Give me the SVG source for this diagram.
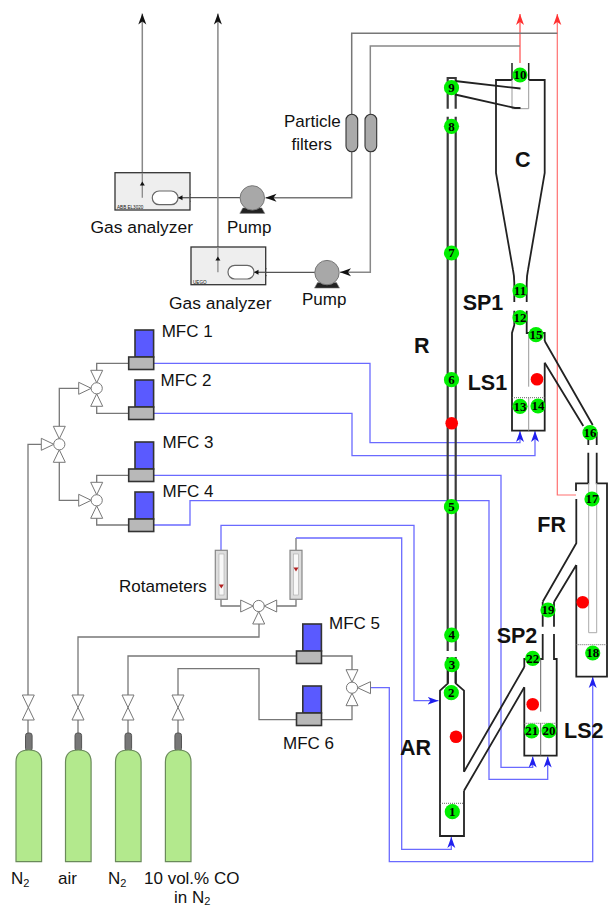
<svg xmlns="http://www.w3.org/2000/svg" width="608" height="907" viewBox="0 0 608 907">
<style>
text{font-family:"Liberation Sans",Arial,sans-serif;fill:#111}
.t{font-size:17px}
.b{font-size:21.5px;font-weight:bold}
.n{font-family:"Liberation Serif","Times New Roman",serif;font-size:13px;font-weight:bold;text-anchor:middle;fill:#000}
.g{fill:none;stroke:#777;stroke-width:1.3}
.k{fill:none;stroke:#555;stroke-width:1.3}
.bl{fill:none;stroke:#6a6aff;stroke-width:1.3}
.r{fill:none;stroke:#ff7070;stroke-width:1.2}
.w{fill:none;stroke:#222;stroke-width:1.8}
.p{fill:none;stroke:#3a3a3a;stroke-width:2.2}
.th{fill:none;stroke:#999;stroke-width:1}
.d{fill:none;stroke:#666;stroke-width:1;stroke-dasharray:1 1}
.green{fill:#00ee00}
.red{fill:#ff0000}
.v{fill:#fff;stroke:#777;stroke-width:1}
.mb{fill:#5a5aff;stroke:#333;stroke-width:1.6}
.mg{fill:#b8b8b8;stroke:#333;stroke-width:1.6}
.cyl{fill:#b3e98d;stroke:#6a8a5a;stroke-width:1.2}
.box{fill:#eeeeee;stroke:#333;stroke-width:1.3}
.rot{fill:#ddd;stroke:#888;stroke-width:1.2}
</style>
<defs>
<marker id="ab" markerUnits="userSpaceOnUse" markerWidth="11" markerHeight="9" viewBox="0 0 11 8" refX="11" refY="4" orient="auto"><path d="M11,4 L0,0 L3,4 L0,8 Z" fill="#2020ee"/></marker>
<marker id="ar" markerUnits="userSpaceOnUse" markerWidth="11" markerHeight="9" viewBox="0 0 11 8" refX="11" refY="4" orient="auto"><path d="M11,4 L0,0 L3,4 L0,8 Z" fill="#ff3030"/></marker>
<marker id="ak" markerUnits="userSpaceOnUse" markerWidth="11" markerHeight="9" viewBox="0 0 11 8" refX="11" refY="4" orient="auto"><path d="M11,4 L0,0 L3,4 L0,8 Z" fill="#111"/></marker>
<g id="cylinder"><rect x="-3.3" y="733" width="6.6" height="18" rx="2.5" fill="#777" stroke="#555"/><path class="cyl" d="M-12.8,861.7 V762 Q-12.8,750 0,750 Q12.8,750 12.8,762 V861.7 Z"/></g>
<g id="shut"><path class="v" d="M-6,695 H6 L-6,720 H6 Z"/></g>
<g id="valve3"><path class="v" d="M0,-5.5 L-6,-18 H6 Z M0,5.5 L-6,18 H6 Z M-5.5,0 L-18,-6 V6 Z"/><circle class="v" r="5.6"/></g>
<g id="pump"><path d="M-12.5,15.5 L-9.5,10 H9.5 L12.5,15.5 Z" fill="#222" stroke="#888" stroke-width="0.6"/><circle r="12.2" fill="#a8a8a8" stroke="#777" stroke-width="1"/></g>
<g id="mfc"><rect class="mb" x="6.3" y="0" width="18.6" height="27"/><rect class="mg" x="0" y="27" width="25" height="12.5"/></g>
<rect id="filter" width="11.7" height="37.4" rx="5.8" fill="#aaa" stroke="#333" stroke-width="1.1"/>
</defs>

<g id="connectors">
<path class="g" d="M28,695 V444.3 H41"/>
<path class="g" d="M28,720 V735 M78,720 V735 M128,720 V735 M178,720 V735"/>
<path class="g" d="M78,695 V637 H259 V624"/>
<path class="g" d="M128,695 V656 H296.3"/>
<path class="g" d="M178,695 V668.7 H259 V719.7 H296.3"/>
<path class="g" d="M321.7,656 H352 V670 M352,705 V719.7 H321.7"/>
<path class="g" d="M59.3,426.7 V388.3 H79 M59.3,462 V500.3 H79"/>
<path class="g" d="M96.7,371 V363.3 H128.7 M96.7,406 V413.3 H128.7 M96.7,482.5 V475.3 H128.7 M96.7,518 V525 H128.7"/>
<path class="g" d="M240,606 H221 V599.3 M277,606 H296 V599.3"/>
<path class="bl" d="M154,363.3 H370 V442.7 H520 V431" marker-end="url(#ab)"/>
<path class="bl" d="M154,413.3 H352 V455.7 H535 V431" marker-end="url(#ab)"/>
<path class="bl" d="M154,475.3 H501 V767.3 H532.7 V756.5" marker-end="url(#ab)"/>
<path class="bl" d="M154,525 H190 V500.7 H489 V779.3 H547.7 V756.5" marker-end="url(#ab)"/>
<path class="bl" d="M221,550 V525.3 H414 V700.7 H438.5" marker-end="url(#ab)"/>
<path class="g" d="M296,550 V538"/>
<path class="bl" d="M296,538 H401.7 V849.3 H451.3 V837" marker-end="url(#ab)"/>
<path class="bl" d="M370,687.7 H389.3 V861.7 H592.7 V677" marker-end="url(#ab)"/>
<path class="r" style="stroke-width:1.5" d="M520,63 V14" marker-end="url(#ar)"/>
<path class="r" d="M576,495 H557.3 V14" marker-end="url(#ar)"/>
<path class="k" style="stroke:#777;stroke-width:1.5" d="M557.3,33.3 H351.7 V197.7 H265.5" marker-end="url(#ak)"/>
<path class="k" style="stroke:#888;stroke-width:1.5" d="M520,46 H370.3 V272.3 H340" marker-end="url(#ak)"/>
<path class="k" d="M240,197.7 H180" marker-end="url(#ak)"/>
<path class="k" d="M315,272.3 H256" marker-end="url(#ak)"/>
<path class="k" style="stroke:#888;stroke-width:1.5" d="M152,197.7 H142.3 V13.5" marker-end="url(#ak)"/>
<path class="k" style="stroke:#888;stroke-width:1.5" d="M228,272.3 H217.9 V13.5" marker-end="url(#ak)"/>
</g>

<g id="node-R">
<path class="p" d="M447.7,108.7 V78 H455.7 V108.7 M447.7,116.7 V651 M455.7,116.7 V651 M447.7,657 V683 M455.7,657 V683"/>
</g>
<g id="node-C">
<path class="w" d="M512,80 H496 V173 L513,270 Q514.3,276 514.3,283 V302 M528.7,80 H544.7 V173 L528,270 Q526.7,276 526.7,283 V302"/>
<path class="w" style="stroke-width:1.5" d="M512,63 V80 M528.7,63 V80"/>
<path class="th" d="M512,80 V108.7 H528.7 V80"/>
<path class="w" d="M455,81 L520.5,88.5 M455,94.5 L515,108 H520.5"/>
</g>
<g id="node-LS1">
<path class="w" d="M514.3,310.7 V325 L512,333 V430.7 H544.7 V362.7 M526.7,310.7 V333 H544.7 V341"/>
<path class="w" d="M544.7,341 L592.7,425 M544.7,362.7 L583.3,426"/>
<path class="th" d="M528.7,333 V386.7 M528.7,397.7 V430.7"/>
<path class="d" d="M512,397.7 H544.7"/>
</g>
<g id="node-FR">
<path class="w" d="M588.3,432 V445 M596.7,432 V445 M588.3,452.7 V483.3 H576 V491 M596.7,452.7 V483.3 H607 V676.7 H576.3 V565 M576.3,499 V543.3 L542.7,601.7 M576.3,565 L554,602"/>
<path class="th" style="stroke:#aaa" d="M588.7,483 V632.7 H596.7 V483"/>
<path class="d" d="M576.3,644.7 H607"/>
</g>
<g id="node-LS2">
<path class="w" d="M542.7,602 V626.7 M554,602 V626.7 M542.7,634 V659 H524.3 V667 M554,634 V659 H556.7 V755.7 H524.3 V687.3"/>
<path class="w" d="M524.3,667 L464,771.7 M524.3,687.3 L464,790.7"/>
<path class="th" style="stroke:#666" d="M540.7,659 V711.7 M540.7,723.3 V755.7"/>
<path class="d" d="M524.3,723.3 H556.7"/>
</g>
<g id="node-AR">
<path class="w" d="M447.9,670 V683.3 L440,690.7 V836 H464 V790.7 M455.7,670 V683.3 L464,690.7 V771.7"/>
<path class="d" d="M440,803.3 H464"/>
</g>

<g id="sensors">
<circle class="green" cx="451.5" cy="87.7" r="7.6"/><text class="n" x="451.5" y="92">9</text>
<circle class="green" cx="451.5" cy="126.3" r="7.6"/><text class="n" x="451.5" y="130.6">8</text>
<circle class="green" cx="451.5" cy="253" r="7.6"/><text class="n" x="451.5" y="257.3">7</text>
<circle class="green" cx="451.5" cy="379.7" r="7.6"/><text class="n" x="451.5" y="384">6</text>
<circle class="green" cx="451.5" cy="506.7" r="7.6"/><text class="n" x="451.5" y="511">5</text>
<circle class="green" cx="451.7" cy="635" r="7.6"/><text class="n" x="451.7" y="639.3">4</text>
<circle class="green" cx="452" cy="664.7" r="7.6"/><text class="n" x="452" y="669">3</text>
<circle class="green" cx="451.3" cy="692.7" r="7.6"/><text class="n" x="451.3" y="697">2</text>
<circle class="green" cx="452.3" cy="811.7" r="7.6"/><text class="n" x="452.3" y="816">1</text>
<circle class="green" cx="520" cy="75" r="7.6"/><text class="n" x="520" y="79.3">10</text>
<circle class="green" cx="520" cy="290.7" r="7.6"/><text class="n" x="520" y="295">11</text>
<circle class="green" cx="520" cy="317.7" r="7.6"/><text class="n" x="520" y="322">12</text>
<circle class="green" cx="520" cy="406.3" r="7.6"/><text class="n" x="520" y="410.6">13</text>
<circle class="green" cx="538" cy="406" r="7.6"/><text class="n" x="538" y="410.3">14</text>
<circle class="green" cx="536" cy="334.7" r="7.6"/><text class="n" x="536" y="339">15</text>
<circle class="green" cx="590" cy="432.7" r="7.6"/><text class="n" x="590" y="437">16</text>
<circle class="green" cx="592" cy="499" r="7.6"/><text class="n" x="592" y="503.3">17</text>
<circle class="green" cx="592.7" cy="653" r="7.6"/><text class="n" x="592.7" y="657.3">18</text>
<circle class="green" cx="548" cy="610" r="7.6"/><text class="n" x="548" y="614.3">19</text>
<circle class="green" cx="549" cy="730.7" r="7.6"/><text class="n" x="549" y="735">20</text>
<circle class="green" cx="531.7" cy="731" r="7.6"/><text class="n" x="531.7" y="735.3">21</text>
<circle class="green" cx="532.7" cy="658.3" r="7.6"/><text class="n" x="532.7" y="662.6">22</text>
<circle class="red" cx="451.7" cy="423.3" r="6.3"/>
<circle class="red" cx="537" cy="379.3" r="6.3"/>
<circle class="red" cx="582.7" cy="602.3" r="6.3"/>
<circle class="red" cx="532.7" cy="704.3" r="6.3"/>
<circle class="red" cx="456" cy="736.7" r="6.3"/>
</g>

<g id="analyzer1"><rect class="box" x="115" y="172.7" width="75" height="37.3"/><path class="k" d="M190,197.7 H178"/><path class="k" style="stroke:#888" d="M142.3,197.7 V172.7"/><path d="M142.3,181.5 l-2.5,4 h5 Z" fill="#111"/><path d="M178,197.7 l4.5,-2.5 v5 Z" fill="#111"/><rect x="152.3" y="191" width="25.7" height="13.7" rx="6.8" fill="#fff" stroke="#666" stroke-width="1.2"/><text x="117" y="209" style="font-size:4.6px">ABB EL3020</text></g>
<g id="analyzer2"><rect class="box" x="191" y="247" width="74.7" height="37.7"/><path class="k" d="M265.7,272.3 H254"/><path class="k" style="stroke:#888" d="M217.9,272.3 V247"/><path d="M217.9,256.5 l-2.5,4 h5 Z" fill="#111"/><path d="M254,272.3 l4.5,-2.5 v5 Z" fill="#111"/><rect x="228" y="265.3" width="26" height="13.7" rx="6.8" fill="#fff" stroke="#666" stroke-width="1.2"/><text x="193" y="283.5" style="font-size:4.6px">UEGO</text></g>
<g id="pump1"><use href="#pump" x="252.3" y="197.9"/></g>
<g id="pump2"><use href="#pump" x="327" y="272.6"/></g>
<g id="filter1"><use href="#filter" x="346" y="114.3"/></g>
<g id="filter2"><use href="#filter" x="365" y="114.3"/></g>

<g id="mfc1"><use href="#mfc" x="128.7" y="330"/></g>
<g id="mfc2"><use href="#mfc" x="128.7" y="380"/></g>
<g id="mfc3"><use href="#mfc" x="128.7" y="442"/></g>
<g id="mfc4"><use href="#mfc" x="128.7" y="492"/></g>
<g id="mfc5"><use href="#mfc" x="296.5" y="624"/></g>
<g id="mfc6"><use href="#mfc" x="296.5" y="686"/></g>

<g id="valves">
<use href="#valve3" x="96.7" y="388.3"/>
<use href="#valve3" x="96.7" y="500.3"/>
<use href="#valve3" x="59.3" y="444.3"/>
<g transform="translate(258.7,606)"><path class="v" d="M-5.5,0 L-18,-6 V6 Z M5.5,0 L18,-6 V6 Z M0,5.5 L-6,18 H6 Z"/><circle class="v" r="5.6"/></g>
<g transform="translate(352,687.7)"><path class="v" d="M0,-5.5 L-6,-18 H6 Z M0,5.5 L-6,18 H6 Z M5.5,0 L18.5,-6 V6 Z"/><circle class="v" r="5.6"/></g>
<use href="#shut" x="28.3"/><use href="#shut" x="78"/><use href="#shut" x="128"/><use href="#shut" x="178"/>
</g>

<g id="rotameter1"><rect class="rot" x="215.3" y="550.3" width="12" height="49"/><rect x="219" y="554" width="5" height="41" fill="#f8f8f8" stroke="#aaa" stroke-width="0.6"/><path d="M218.8,584.5 h5 l-2.5,4 Z" fill="#b02020"/></g>
<g id="rotameter2"><rect class="rot" x="290" y="550.3" width="12" height="49"/><rect x="293.5" y="554" width="5" height="41" fill="#f8f8f8" stroke="#aaa" stroke-width="0.6"/><path d="M293.5,567.5 h5 l-2.5,4 Z" fill="#b02020"/></g>

<g id="cylinder1"><use href="#cylinder" x="28.8"/></g>
<g id="cylinder2"><use href="#cylinder" x="78.3"/></g>
<g id="cylinder3"><use href="#cylinder" x="128.3"/></g>
<g id="cylinder4"><use href="#cylinder" x="178.2"/></g>

<g id="labels">
<text class="t" x="161.7" y="336.7">MFC 1</text>
<text class="t" x="160.5" y="386">MFC 2</text>
<text class="t" x="162.5" y="448">MFC 3</text>
<text class="t" x="162.5" y="497">MFC 4</text>
<text class="t" x="329" y="629">MFC 5</text>
<text class="t" x="283" y="749">MFC 6</text>
<text class="t" x="119" y="591.7">Rotameters</text>
<text class="t" x="284" y="126.7">Particle</text>
<text class="t" x="291.5" y="150">filters</text>
<text class="t" x="90.5" y="233" style="font-size:17.4px">Gas analyzer</text>
<text class="t" x="169" y="309" style="font-size:17.4px">Gas analyzer</text>
<text class="t" x="227" y="233">Pump</text>
<text class="t" x="302" y="305">Pump</text>
<text class="t" x="11" y="884">N<tspan dy="3" style="font-size:11px">2</tspan></text>
<text class="t" x="58" y="884">air</text>
<text class="t" x="108" y="884">N<tspan dy="3" style="font-size:11px">2</tspan></text>
<text class="t" x="144" y="884">10 vol.% CO</text>
<text class="t" x="174" y="903">in N<tspan dy="2" style="font-size:11px">2</tspan></text>
<text class="b" x="515" y="166.7">C</text>
<text class="b" x="462.7" y="310">SP1</text>
<text class="b" x="414" y="352.7">R</text>
<text class="b" x="467.7" y="390">LS1</text>
<text class="b" x="537.3" y="531.7">FR</text>
<text class="b" x="496.7" y="643">SP2</text>
<text class="b" x="400" y="755">AR</text>
<text class="b" x="564" y="737.7">LS2</text>
</g>
</svg>
